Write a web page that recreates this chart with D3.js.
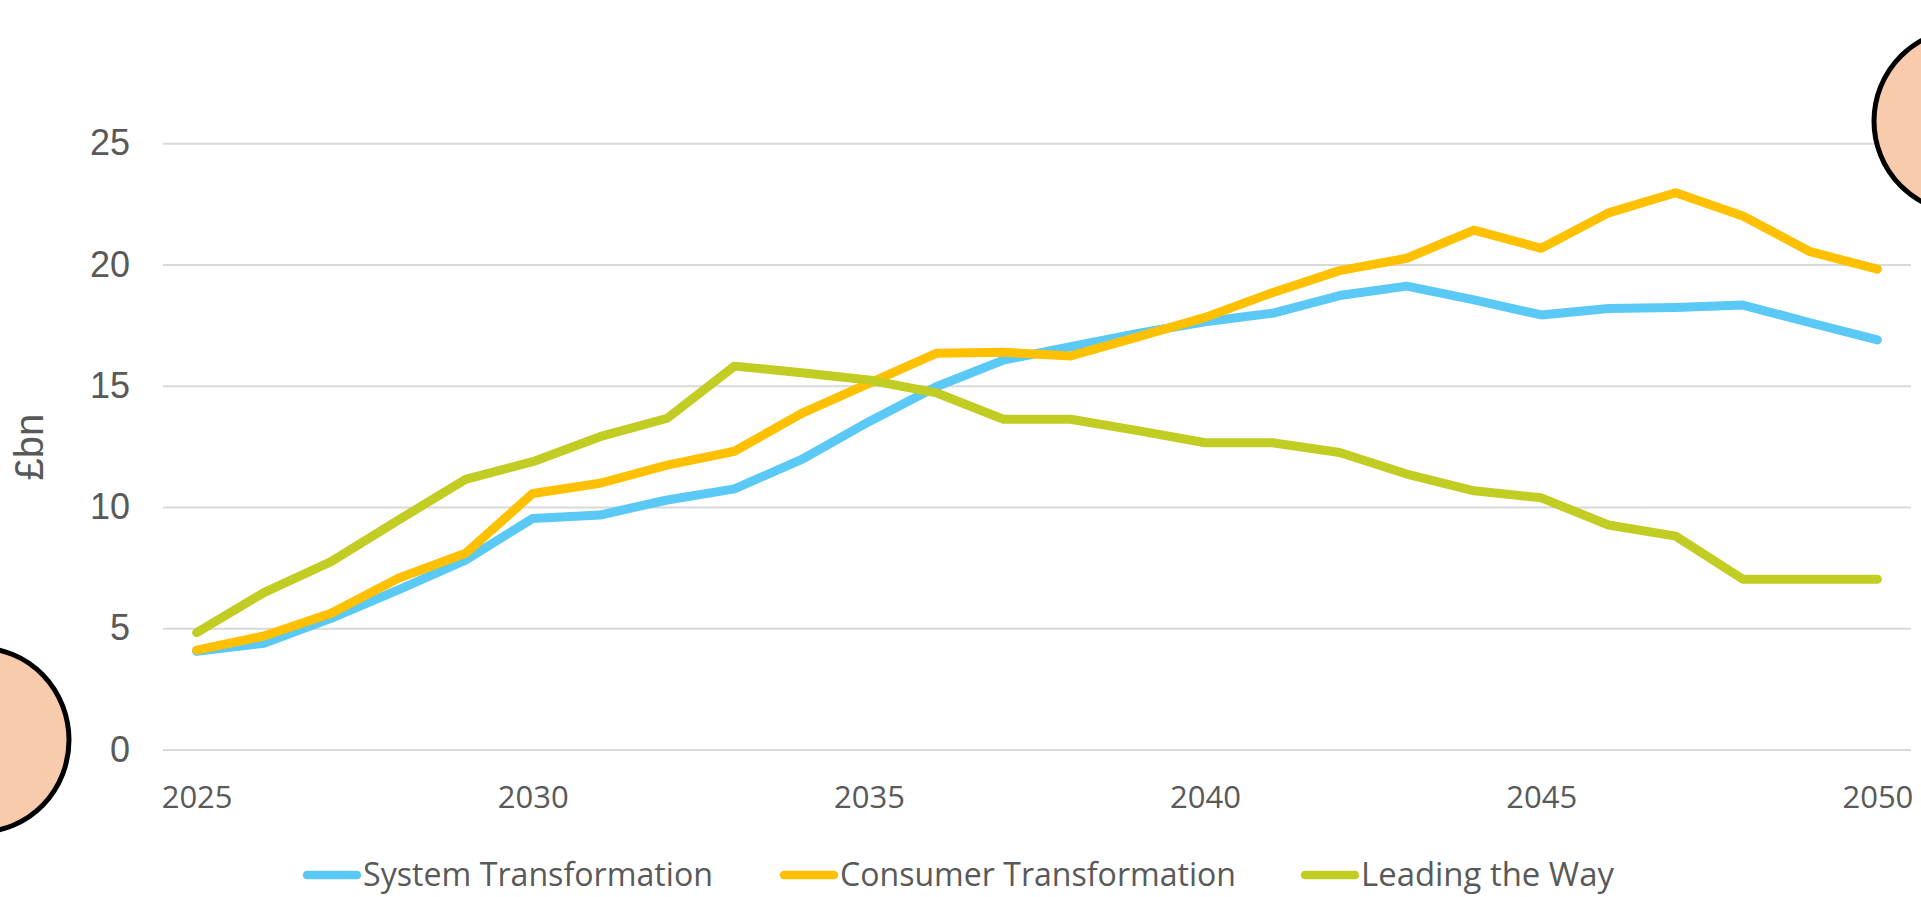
<!DOCTYPE html>
<html>
<head>
<meta charset="utf-8">
<script src="https://cdn.jsdelivr.net/npm/d3@7"></script>
<style>
  html, body { margin: 0; padding: 0; background: #ffffff; }
  svg { display: block; }
</style>
</head>
<body>
<svg id="chart" width="1921" height="897"></svg>
<script>
const years = d3.range(2025, 2051);
const xTickLabels = [2025, 2030, 2035, 2040, 2045, 2050];
const yTicks = [0, 5, 10, 15, 20, 25];
const seriesNames = ["System Transformation", "Consumer Transformation", "Leading the Way"];
const seriesColors = ["#5BC9F5", "#FFC000", "#C2CD23"];

const systemTransformation = [4.05, 4.38, 5.41, 6.58, 7.81, 9.53, 9.67, 10.29, 10.75, 11.96, 13.52, 14.96, 16.06, 16.61, 17.16, 17.64, 17.99, 18.72, 19.11, 18.54, 17.92, 18.19, 18.23, 18.33, 17.6, 16.89];
const consumerTransformation = [4.10, 4.68, 5.62, 7.06, 8.09, 10.56, 10.98, 11.73, 12.3, 13.86, 15.1, 16.34, 16.38, 16.23, 17.02, 17.82, 18.84, 19.75, 20.26, 21.42, 20.67, 22.13, 22.96, 22.0, 20.53, 19.81];
const leadingTheWay = [4.82, 6.47, 7.75, 9.46, 11.14, 11.87, 12.9, 13.66, 15.81, 15.54, 15.24, 14.71, 13.62, 13.62, 13.15, 12.65, 12.65, 12.25, 11.36, 10.67, 10.38, 9.26, 8.80, 7.02, 7.02, 7.02];

const seriesValues = [systemTransformation, consumerTransformation, leadingTheWay];

const svg = d3.select("#chart");
const plotLeft = 163, plotRight = 1911;
const band = (plotRight - plotLeft) / years.length;

const x = d3.scalePoint().domain(years).range([plotLeft + band / 2, plotRight - band / 2]);
const y = d3.scaleLinear().domain([0, 25]).range([749.5, 143.3]);

// gridlines + y tick labels
const yAxis = d3.axisLeft(y).tickValues(yTicks).tickSize(-(plotRight - plotLeft)).tickPadding(33);
const gy = svg.append("g").attr("transform", `translate(${plotLeft},0)`).call(yAxis);
gy.select(".domain").remove();
gy.selectAll(".tick line").attr("stroke", "#D9D9D9").attr("stroke-width", 2);
gy.selectAll(".tick text")
  .attr("fill", "#595959")
  .style("font-family", "'Liberation Sans', Arial, sans-serif")
  .style("font-size", "36px");

// x tick labels
const xAxis = d3.axisBottom(x).tickValues(xTickLabels).tickSize(0).tickPadding(0);
const gx = svg.append("g").attr("transform", `translate(0,${y(0)})`).call(xAxis);
gx.select(".domain").remove();
gx.selectAll(".tick text")
  .attr("fill", "#595959")
  .attr("dy", null)
  .attr("y", 58)
  .style("font-family", "'Open Sans', sans-serif")
  .style("font-size", "31px");

// y axis title
svg.append("text")
  .attr("transform", `translate(43,447) rotate(-90)`)
  .attr("text-anchor", "middle")
  .attr("fill", "#595959")
  .style("font-family", "'Liberation Sans', Arial, sans-serif")
  .style("font-size", "40px")
  .text("£bn");

// lines
const line = d3.line().x((d, i) => x(years[i])).y(d => y(d));
seriesValues.forEach((vals, k) => {
  svg.append("path")
    .datum(vals)
    .attr("d", line)
    .attr("fill", "none")
    .attr("stroke", seriesColors[k])
    .attr("stroke-width", 9)
    .attr("stroke-linecap", "round")
    .attr("stroke-linejoin", "round");
});

// legend
const legendItems = [
  { x0: 303, textW: 350 },
  { x0: 780, textW: 396 },
  { x0: 1301, textW: 253 }
];
const legendY = 875;
seriesNames.forEach((name, k) => {
  const g = svg.append("g");
  g.append("line")
    .attr("x1", legendItems[k].x0 + 4).attr("x2", legendItems[k].x0 + 54)
    .attr("y1", legendY).attr("y2", legendY)
    .attr("stroke", seriesColors[k])
    .attr("stroke-width", 8.5)
    .attr("stroke-linecap", "round");
  g.append("text")
    .attr("x", legendItems[k].x0 + 60)
    .attr("y", legendY + 11)
    .attr("fill", "#595959")
    .attr("textLength", legendItems[k].textW)
    .attr("lengthAdjust", "spacingAndGlyphs")
    .style("font-family", "'Open Sans', sans-serif")
    .style("font-size", "32px")
    .text(name);
});

// decorative ellipses
svg.append("ellipse")
  .attr("cx", 1966).attr("cy", 121).attr("rx", 92).attr("ry", 92)
  .attr("fill", "#F8CBAD").attr("stroke", "#000").attr("stroke-width", 5);
svg.append("ellipse")
  .attr("cx", -20).attr("cy", 740).attr("rx", 89).attr("ry", 92)
  .attr("fill", "#F8CBAD").attr("stroke", "#000").attr("stroke-width", 5);
</script>
</body>
</html>
